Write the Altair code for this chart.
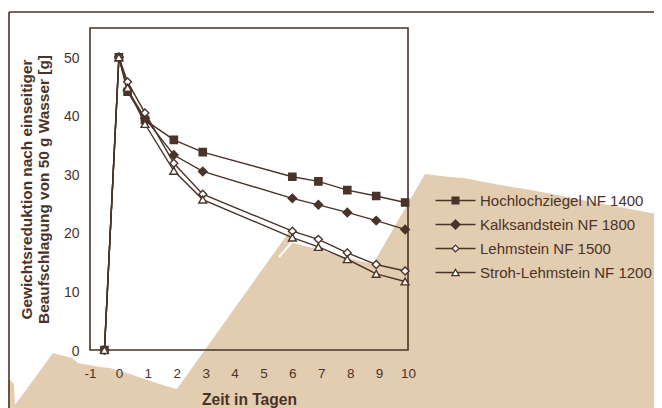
import altair as alt
import pandas as pd

BROWN = "#4a3328"
BEIGE = "#e3cdb1"
FONT = "Liberation Sans"

# ---- data ----
series = ["Hochlochziegel NF 1400", "Kalksandstein NF 1800",
          "Lehmstein NF 1500", "Stroh-Lehmstein NF 1200"]
days = [-0.5, 0, 0.3, 0.9, 1.9, 2.9, 6.0, 6.9, 7.9, 8.9, 9.9]
hochlochziegel = [0, 50, 44.1, 39.3, 35.9, 33.8, 29.6, 28.8, 27.3, 26.3, 25.2]
kalksandstein = [0, 50, 44.4, 39.6, 33.3, 30.5, 25.9, 24.8, 23.5, 22.1, 20.6]
lehmstein = [0, 50, 45.8, 40.5, 31.9, 26.6, 20.3, 18.9, 16.6, 14.6, 13.5]
stroh_lehmstein = [0, 50, 44.8, 38.6, 30.6, 25.7, 19.2, 17.6, 15.5, 13.0, 11.7]
x_ticks = [-1, 0, 1, 2, 3, 4, 5, 6, 7, 8, 9, 10]
y_ticks = [0, 10, 20, 30, 40, 50]

# ---- decorative background outline (picture pixels) ----
bg_px = [0, 10, 14, 15, 53, 72, 78, 100, 110, 133, 153, 173, 177, 289,
         293, 317, 343, 373, 425, 450, 464, 500, 531, 598, 662]
bg_py = [378, 380, 384, 405, 353, 358, 363, 367, 368, 375, 382, 388, 389, 232,
         243, 249, 257, 264, 174, 177, 178, 185, 190, 203, 215]
sliver_px = [279, 292]
sliver_py = [257, 242]

# plot frame in picture pixels: x -1..10 -> 90..408, y 0..55 -> 350..28
PX0, PX1, PY0, PY1 = 90.0, 408.0, 350.0, 28.0
W, H = PX1 - PX0, PY0 - PY1


def to_day(px):
    return -1 + (px - PX0) / W * 11


def to_gram(py):
    return (PY0 - py) / H * 55


rows = []
for s, vals in zip(series, [hochlochziegel, kalksandstein, lehmstein, stroh_lehmstein]):
    for d, v in zip(days, vals):
        rows.append({"series": s, "day": d, "value": v})
df = pd.DataFrame(rows)

bg_df = pd.DataFrame({"bx": [to_day(p) for p in bg_px],
                      "by": [to_gram(p) for p in bg_py],
                      "by2": [to_gram(410)] * len(bg_px)})
sl_df = pd.DataFrame({"bx": [to_day(p) for p in sliver_px],
                      "by": [to_gram(p) for p in sliver_py]})

xscale = alt.Scale(domain=[-1, 10], nice=False, zero=False)
yscale = alt.Scale(domain=[0, 55], nice=False, zero=False)

x_axis = alt.Axis(values=x_ticks, domain=False, ticks=False, tickSize=0, grid=False,
                  labelExpr="'' + datum.value",
                  labelFont=FONT, labelFontSize=13.5, labelColor=BROWN,
                  labelPadding=27, labelBaseline="alphabetic", labelFlush=False,
                  labelOverlap=False, title="Zeit in Tagen", titleFont=FONT,
                  titleFontSize=15.6, titleFontWeight="bold", titleColor=BROWN,
                  titleY=54, titleBaseline="alphabetic", orient="bottom", zindex=2)
y_axis = alt.Axis(values=y_ticks, domain=False, ticks=False, tickSize=0, grid=False,
                  labelFont=FONT, labelFontSize=14, labelColor=BROWN,
                  labelPadding=11, labelBaseline="alphabetic", labelOffset=5,
                  labelFlush=False, labelOverlap=False,
                  title=["Gewichtsreduktion nach einseitiger",
                         "Beaufschlagung von 50 g Wasser [g]"],
                  titleFont=FONT, titleFontSize=15.4, titleFontWeight="bold",
                  titleColor=BROWN, titleLineHeight=17.5, titleX=-64, titleY=H / 2,
                  titleBaseline="middle", titleAlign="center", titleAngle=270,
                  orient="left", zindex=2)

bg = alt.Chart(bg_df).mark_area(color=BEIGE, clip=False, opacity=1).encode(
    x=alt.X("bx:Q", scale=xscale, axis=x_axis),
    y=alt.Y("by:Q", scale=yscale, axis=y_axis),
    y2="by2:Q",
)
sliver = alt.Chart(sl_df).mark_line(color="white", strokeWidth=2, clip=False).encode(
    x=alt.X("bx:Q", scale=xscale, axis=x_axis),
    y=alt.Y("by:Q", scale=yscale, axis=y_axis),
)

one = pd.DataFrame({"a": [0]})
frame = alt.Chart(one).mark_rect(filled=False, stroke=BROWN, strokeWidth=1.6).encode(
    x=alt.value(0), x2=alt.value(W), y=alt.value(0), y2=alt.value(H)
)
border_top = alt.Chart(one).mark_rule(color=BROWN, strokeWidth=1.6).encode(
    x=alt.value(-81), x2=alt.value(580), y=alt.value(-16)
)
border_left = alt.Chart(one).mark_rule(color=BROWN, strokeWidth=1.6).encode(
    x=alt.value(-81), y=alt.value(-16), y2=alt.value(390)
)

lines = alt.Chart(df).mark_line(color=BROWN, strokeWidth=1.4).encode(
    x=alt.X("day:Q", scale=xscale, axis=x_axis),
    y=alt.Y("value:Q", scale=yscale, axis=y_axis),
    detail="series:N",
)

styles = [("square", BROWN, 52), ("diamond", BROWN, 72),
          ("diamond", "white", 62), ("triangle-up", "white", 62)]
point_layers = []
for s, (shp, fill, size) in zip(series, styles):
    point_layers.append(
        alt.Chart(df).transform_filter(alt.datum.series == s).mark_point(
            shape=shp, fill=fill, filled=True, stroke=BROWN, strokeWidth=1.4,
            size=size, opacity=1
        ).encode(x=alt.X("day:Q", scale=xscale, axis=x_axis),
                 y=alt.Y("value:Q", scale=yscale, axis=y_axis))
    )

legend_paths = [
    "M-5,0H-0.85M0.85,0H5M-0.85,-0.85H0.85V0.85H-0.85Z",
    "M-5,0H-1.15M1.15,0H5M0,-1.15L1.15,0L0,1.15L-1.15,0Z",
    "M-5,0H-0.85M0.85,0H5M0,-0.85L0.85,0L0,0.85L-0.85,0Z",
    "M-5,0H-0.45M0.45,0H5M0,-0.8L0.9,0.8L-0.9,0.8Z",
]
leg = alt.Legend(title=None, orient="none", legendX=358, legendY=165, padding=0,
                 labelFont=FONT, labelFontSize=15, labelColor=BROWN,
                 labelOffset=17, rowPadding=8, symbolSize=64,
                 symbolStrokeColor=BROWN, symbolStrokeWidth=1.3, symbolOpacity=1,
                 labelLimit=300)
legend_df = pd.DataFrame({"series": series})
legend_layer = alt.Chart(legend_df).mark_point(opacity=0, strokeWidth=1.3).encode(
    shape=alt.Shape("series:N", scale=alt.Scale(domain=series, range=legend_paths),
                    legend=leg, sort=series),
    fill=alt.Fill("series:N", scale=alt.Scale(domain=series,
                  range=[BROWN, BROWN, "white", "white"]), legend=leg, sort=series),
    stroke=alt.Stroke("series:N", scale=alt.Scale(domain=series,
                      range=[BROWN, BROWN, BROWN, BROWN]), legend=leg, sort=series),
)

chart = alt.layer(bg, sliver, frame, border_top, border_left, lines,
                  *point_layers, legend_layer).properties(
    width=W, height=H,
    padding={"left": 82, "top": 20, "right": 246, "bottom": 58},
    autosize=alt.AutoSizeParams(type="none"),
    background="white",
).configure_view(stroke="transparent")

chart.save("out.html", embed_options={"renderer": "svg", "actions": False})
